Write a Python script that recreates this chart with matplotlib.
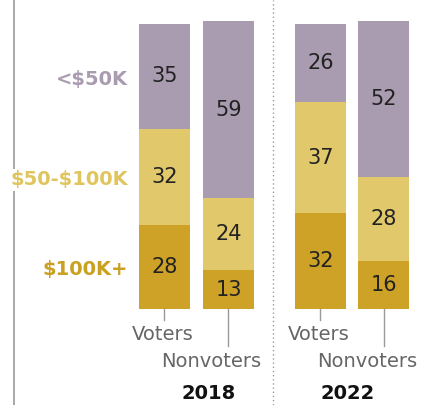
import matplotlib.pyplot as plt
import numpy as np

groups = ["Voters", "Nonvoters", "Voters", "Nonvoters"]
years = ["2018", "2022"]
categories = ["$100K+", "$50-$100K", "<$50K"]
high = [28, 13, 32, 16]
mid = [32, 24, 37, 28]
low = [35, 59, 26, 52]

colors = ["#CDA227", "#E1C96B", "#A99CB0"]
label_colors = ["#C9A020", "#E0C55E", "#A99CB0"]

fig = plt.figure(figsize=(4.28, 4.05), dpi=100)
ax = fig.add_axes([0, 0, 1, 1])
ax.set_xlim(0, 428)
ax.set_ylim(-32, 103)
ax.axis("off")

xs = np.array([164.5, 228.5, 320.5, 384])
w = 51
series = [high, mid, low]
bottom = np.zeros(4)
for vals, c in zip(series, colors):
    ax.bar(xs, vals, width=w, bottom=bottom, color=c, edgecolor="none")
    for x, b, v in zip(xs, bottom, vals):
        ax.text(x, b + v / 2, str(v), ha="center", va="center",
                fontsize=15, color="#222222")
    bottom += np.array(vals)

# category labels next to the first bar
b = 0
for cat, vals, lc in zip(categories, series, label_colors):
    ax.text(128, b + vals[0] / 2 - 1, cat, ha="right", va="center",
            fontsize=14, fontweight="bold", color=lc, parse_math=False,
            bbox=dict(facecolor="white", edgecolor="none", pad=1))
    b += vals[0]

# group labels with leader ticks
for i, (x, g) in enumerate(zip(xs, groups)):
    if i % 2 == 0:
        ax.plot([x, x], [0, -3.7], color="#999999", lw=1)
        ax.text(x - 2, -8.5, g, ha="center", va="center", fontsize=14,
                color="#666666")
    else:
        ax.plot([x, x], [0, -12.3], color="#999999", lw=1)
        ax.text(x - 17, -17.5, g, ha="center", va="center", fontsize=14,
                color="#666666")

for x, y in zip([208.5, 347.5], years):
    ax.text(x, -28.3, y, ha="center", va="center", fontsize=14,
            fontweight="bold", color="#111111")

ax.plot([273, 273], [-32, 103], color="#999999", lw=1, ls=(0, (1, 2)))
ax.plot([14, 14], [-32, 103], color="#999999", lw=1.2, zorder=0)

fig.savefig("out.png", dpi=100)
